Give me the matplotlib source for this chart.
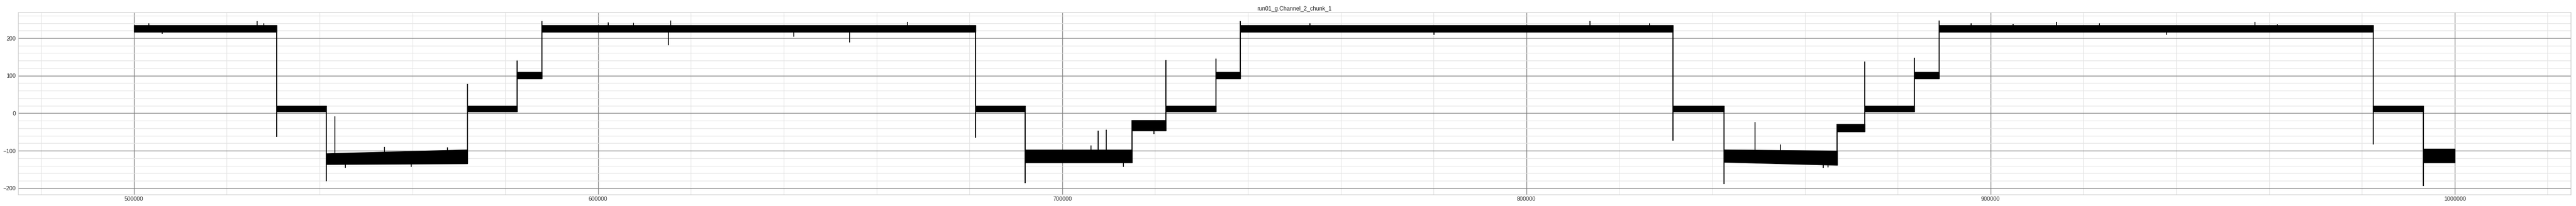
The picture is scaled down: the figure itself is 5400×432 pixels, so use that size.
import matplotlib
matplotlib.use("Agg")
import matplotlib.pyplot as plt
from matplotlib.ticker import MultipleLocator
import numpy as np

# ---- data (step levels of a noisy trace) ----
seg_start = [500000, 530740, 541440, 571830, 582540, 587850, 681280, 692050, 715010,
             722300, 733070, 738320, 831620, 842570, 866970, 872900, 883600, 888930,
             982420, 993200]
seg_end = [530740, 541440, 571830, 582540, 587850, 681280, 692050, 715010, 722300,
           733070, 738320, 831620, 842570, 866970, 872900, 883600, 888930, 982420,
           993200, 1000000]
# noise band limits (at segment start / at segment end)
band_lo_a = [216, 4, -136, 4, 92, 216, 4, -132, -46, 4, 92, 216, 4, -130, -49, 4, 92, 216, 4, -132]
band_lo_b = [216, 4, -134, 4, 92, 216, 4, -132, -46, 4, 92, 216, 4, -138, -49, 4, 92, 216, 4, -132]
band_hi_a = [234, 20, -107, 20, 110, 234, 20, -97, -19, 20, 110, 234, 20, -97, -28, 20, 110, 234, 20, -95]
band_hi_b = [234, 20, -97, 20, 110, 234, 20, -97, -19, 20, 110, 234, 20, -100, -28, 20, 110, 234, 20, -95]
# overshoot at each transition (between segment i and i+1); nan = none
trans_peak = [-63.5, -181, 78, 140.5, 245.5, -66, -186.7, np.nan, 142, 145.6, 245.5,
              -73, -188.4, np.nan, 138, 147.7, 247.2, -83, -193.9]
# isolated spikes
spike_x = [503210, 526520, 528010, 506070, 543280, 553990, 545530, 559710, 567540,
           602230, 607610, 615110, 615650, 642160, 654150, 666620,
           706160, 707720, 709430, 713230, 719780,
           753380, 780100, 813660, 826500,
           849250, 854710, 863980, 864930,
           895810, 904870, 914210, 923480, 937920, 957000, 961770]
spike_y = [240, 246, 240, 211, -8.5, -90, -145, -143, -91,
           242, 241, 180.7, 247, 204, 189, 243,
           -86, -46.6, -43.6, -143, -55,
           240, 209, 245.5, 240,
           -23.7, -83, -145, -144,
           239, 238, 243, 239, 209, 243.5, 237]

title = "run01_g.Channel_2_chunk_1"

# ---- figure ----
fig = plt.figure(figsize=(54, 4.32), dpi=100)
ax = fig.add_axes([37.5 / 5400, (432 - 408.3) / 432, (5389 - 37.5) / 5400, (408.3 - 26) / 432])

for s, e, la, lb, ha, hb in zip(seg_start, seg_end, band_lo_a, band_lo_b, band_hi_a, band_hi_b):
    ax.fill_between([s, e], [la, lb], [ha, hb], facecolor="black", edgecolor="black",
                    linewidth=1.0, zorder=3)

for i, pk in enumerate(trans_peak):
    x = seg_end[i]
    vals = [band_lo_b[i], band_hi_b[i], band_lo_a[i + 1], band_hi_a[i + 1]]
    if not np.isnan(pk):
        vals.append(pk)
    ax.vlines(x, min(vals), max(vals), color="black", linewidth=1.6, zorder=3)

for sx, sy in zip(spike_x, spike_y):
    j = int(np.searchsorted(seg_end, sx))
    mid = 0.5 * (band_lo_a[j] + band_hi_a[j])
    ax.vlines(sx, min(mid, sy), max(mid, sy), color="black", linewidth=1.4, zorder=3)

ax.set_xlim(475000, 1025000)
ax.set_ylim(-217, 268.6)
ax.xaxis.set_major_locator(MultipleLocator(100000))
ax.xaxis.set_minor_locator(MultipleLocator(20000))
ax.yaxis.set_major_locator(MultipleLocator(100))
ax.yaxis.set_minor_locator(MultipleLocator(20))
ax.ticklabel_format(style="plain", useOffset=False)

ax.grid(which="major", color="#808080", linewidth=1.0, zorder=1)
ax.grid(which="minor", color="#e3e3e3", linewidth=0.9, zorder=0)
ax.set_axisbelow(True)
for sp in ax.spines.values():
    sp.set_color("#cccccc")
    sp.set_linewidth(1.0)

tick_font = ["Liberation Sans Narrow", "Liberation Sans", "DejaVu Sans"]
ax.tick_params(which="both", length=0)
ax.tick_params(axis="x", pad=2.5)
ax.tick_params(axis="y", pad=3.3)
for lab in ax.get_xticklabels() + ax.get_yticklabels():
    lab.set_fontfamily(tick_font)
    lab.set_fontsize(8.5)
    lab.set_color("#333333")

ax.set_title(title, fontsize=8.6, family=["Liberation Sans", "DejaVu Sans"],
             color="#222222", pad=3.2)

fig.savefig("out.png", dpi=100)
